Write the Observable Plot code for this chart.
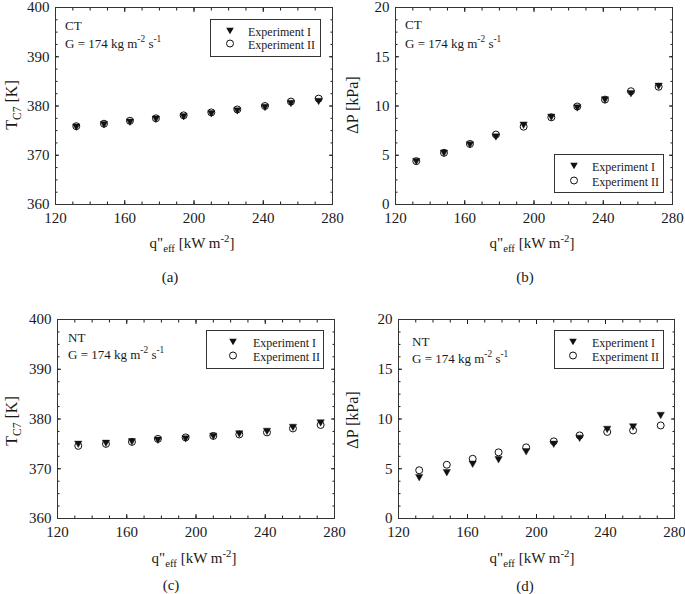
<!DOCTYPE html>
<html><head><meta charset="utf-8">
<script src="https://cdn.jsdelivr.net/npm/d3@7"></script>
<script src="https://cdn.jsdelivr.net/npm/@observablehq/plot@0.6"></script>
<style>
body{margin:0;background:#fff;}
#root{position:relative;width:685px;height:594px;font-family:"Liberation Serif","Times New Roman",serif;color:#1a1a1a;overflow:hidden;}
.panel{position:absolute;}
.c{position:absolute;white-space:nowrap;line-height:1;transform:translate(-50%,-50%);}
.l{position:absolute;white-space:nowrap;line-height:1;transform:translateY(-50%);}
.r{position:absolute;white-space:nowrap;line-height:1;transform:translate(-50%,-50%) rotate(-90deg);}
.box{position:absolute;border:1px solid #333;box-sizing:border-box;background:#fff;}
.sym{position:absolute;transform:translate(-50%,-50%);}
sub,sup{font-size:72%;line-height:0;}
</style></head><body><div id="root"></div>
<script>
// ---- data ----
const qEff = [132, 148, 163, 178, 194, 210, 225, 241, 256, 272];
const tCT_I  = [375.8, 376.3, 376.8, 377.4, 377.9, 378.5, 379.1, 379.8, 380.6, 381.0];
const tCT_II = [375.9, 376.4, 377.0, 377.5, 378.1, 378.7, 379.3, 380.0, 380.9, 381.5];
const pCT_I  = [4.4, 5.25, 6.1, 6.9, 8.1, 8.9, 9.85, 10.65, 11.3, 12.05];
const pCT_II = [4.4, 5.25, 6.15, 7.1, 7.9, 8.85, 9.95, 10.65, 11.5, 11.95];
const tNT_I  = [375.0, 375.2, 375.5, 375.8, 376.1, 376.6, 377.1, 377.6, 378.4, 379.3];
const tNT_II = [374.6, 375.0, 375.4, 376.0, 376.3, 376.6, 376.9, 377.3, 378.1, 378.8];
const pNT_I  = [4.15, 4.65, 5.5, 5.95, 6.75, 7.5, 8.1, 9.0, 9.25, 10.4];
const pNT_II = [4.85, 5.4, 6.0, 6.65, 7.15, 7.75, 8.35, 8.7, 8.85, 9.35];
const xTicks = [120, 160, 200, 240, 280];
const tTicks = [360, 370, 380, 390, 400];
const pTicks = [0, 5, 10, 15, 20];
const seriesNames = ["Experiment I", "Experiment II"];
const captions = ["(a)", "(b)", "(c)", "(d)"];
const regimes = ["CT", "CT", "NT", "NT"];

// ---- drawing ----
const root = document.getElementById("root");
const triDown = {draw(ctx, size){ const r = Math.sqrt(size/Math.PI); ctx.moveTo(-r,-0.75*r); ctx.lineTo(r,-0.75*r); ctx.lineTo(0,r); ctx.closePath(); }};

function minor(ticks, n){ const step=(ticks[1]-ticks[0])/n; return d3.range(ticks[0], ticks[ticks.length-1]+step/2, step); }

const yT = `T<sub>C7</sub> [K]`;
const yP = `ΔP [kPa]`;
const xLab = `q"<sub>eff</sub> [kW m<sup>-2</sup>]`;
const gLab = `G = 174 kg m<sup>-2</sup> s<sup>-1</sup>`;

const panels = [
  {left:0,  top:0,   w:342, h:230, mt:7,  ml:55, mr:10, mb:26, ticks:tTicks, s1:tCT_I, s2:tCT_II, ylab:yT,
   ytx:12, yty:105, xtx:192, xty:243, capx:170, capy:277, rx:65, ry1:25, ry2:43,
   box:[210,19,111,38], symx:230, txtx:248, row1:32, row2:45},
  {left:340, top:0,  w:345, h:230, mt:7,  ml:55, mr:13, mb:26, ticks:pTicks, s1:pCT_I, s2:pCT_II, ylab:yP,
   ytx:353, yty:105, xtx:532, xty:243, capx:525, capy:277, rx:405, ry1:24, ry2:43,
   box:[554,154,110,39], symx:574, txtx:592, row1:167, row2:182},
  {left:0,  top:300, w:342, h:244, mt:19, ml:57, mr:8,  mb:26, ticks:tTicks, s1:tNT_I, s2:tNT_II, ylab:yT,
   ytx:12, yty:421, xtx:194, xty:558, capx:171, capy:585, rx:68, ry1:337, ry2:354,
   box:[206,330,118,39], symx:233, txtx:253, row1:343, row2:357},
  {left:340, top:300, w:345, h:244, mt:19, ml:58, mr:11, mb:26, ticks:pTicks, s1:pNT_I, s2:pNT_II, ylab:yP,
   ytx:353, yty:420, xtx:532, xty:558, capx:525, capy:586, rx:412, ry1:341, ry2:358,
   box:[554,330,110,39], symx:573, txtx:592, row1:343, row2:357}
];

function addHTML(cls, x, y, html, size){
  const d = document.createElement("div");
  d.className = cls; d.style.left = x+"px"; d.style.top = y+"px"; d.style.fontSize = size+"px";
  d.innerHTML = html; root.appendChild(d); return d;
}
function symbolSVG(kind){
  return kind === 0
    ? `<svg width="10" height="10" viewBox="-5 -5 10 10"><path d="M-3.8,-2.85L3.8,-2.85L0,3.8Z" fill="#111"/></svg>`
    : `<svg width="10" height="10" viewBox="-5 -5 10 10"><circle r="3.5" fill="#fff" stroke="#111" stroke-width="1"/></svg>`;
}

panels.forEach((p, i) => {
  const rows = qEff.map((q, k) => ({q, v1: p.s1[k], v2: p.s2[k]}));
  const yMin = minor(p.ticks, 4);
  const xMin = minor(xTicks, 4);
  const noText = {fill: "none", tickFormat: () => "", label: null};
  const chart = Plot.plot({
    width: p.w, height: p.h,
    marginTop: p.mt, marginLeft: p.ml, marginRight: p.mr, marginBottom: p.mb,
    style: {fontFamily: '"Liberation Serif","Times New Roman",serif', fontSize: "15px", color: "#1a1a1a", background: "transparent", overflow: "visible"},
    x: {domain: [xTicks[0], xTicks[xTicks.length-1]]},
    y: {domain: [p.ticks[0], p.ticks[p.ticks.length-1]]},
    marks: [
      Plot.axisX({anchor: "bottom", ticks: xMin, tickSize: -2.5, ...noText}),
      Plot.axisX({anchor: "top", ticks: xMin, tickSize: -2.5, ...noText}),
      Plot.axisX({anchor: "bottom", ticks: xTicks, tickSize: -4, ...noText}),
      Plot.axisX({anchor: "top", ticks: xTicks, tickSize: -4, ...noText}),
      Plot.axisY({anchor: "left", ticks: yMin, tickSize: -2.5, ...noText}),
      Plot.axisY({anchor: "right", ticks: yMin, tickSize: -2.5, ...noText}),
      Plot.axisY({anchor: "left", ticks: p.ticks, tickSize: -4, ...noText}),
      Plot.axisY({anchor: "right", ticks: p.ticks, tickSize: -4, ...noText}),
      Plot.axisX({anchor: "bottom", ticks: xTicks, tickSize: 0, tickPadding: 8, fontSize: 15, label: null, tickFormat: d => d}),
      Plot.axisY({anchor: "left", ticks: p.ticks, tickSize: 0, tickPadding: 6, fontSize: 15, label: null, tickFormat: d => d}),
      Plot.frame({stroke: "#333", strokeWidth: 1}),
      Plot.dot(rows, {x: "q", y: "v2", r: 3.5, stroke: "#111", fill: "white", strokeWidth: 1}),
      Plot.dot(rows, {x: "q", y: "v1", r: 3.7, symbol: triDown, fill: "#111", stroke: "#111", strokeWidth: 0.4})
    ]
  });
  const wrap = document.createElement("div");
  wrap.className = "panel"; wrap.style.left = p.left+"px"; wrap.style.top = p.top+"px";
  wrap.appendChild(chart); root.appendChild(wrap);

  addHTML("r", p.ytx, p.yty, p.ylab, 16);
  addHTML("c", p.xtx, p.xty, xLab, 15);
  addHTML("c", p.capx, p.capy, captions[i], 15);
  addHTML("l", p.rx, p.ry1, regimes[i], 13);
  addHTML("l", p.rx, p.ry2, gLab, 13);

  const b = document.createElement("div");
  b.className = "box";
  b.style.left = p.box[0]+"px"; b.style.top = p.box[1]+"px"; b.style.width = p.box[2]+"px"; b.style.height = p.box[3]+"px";
  root.appendChild(b);
  [p.row1, p.row2].forEach((ry, k) => {
    addHTML("sym", p.symx, ry, symbolSVG(k), 12);
    addHTML("l", p.txtx, ry, seriesNames[k], 12);
  });
});
</script></body></html>
